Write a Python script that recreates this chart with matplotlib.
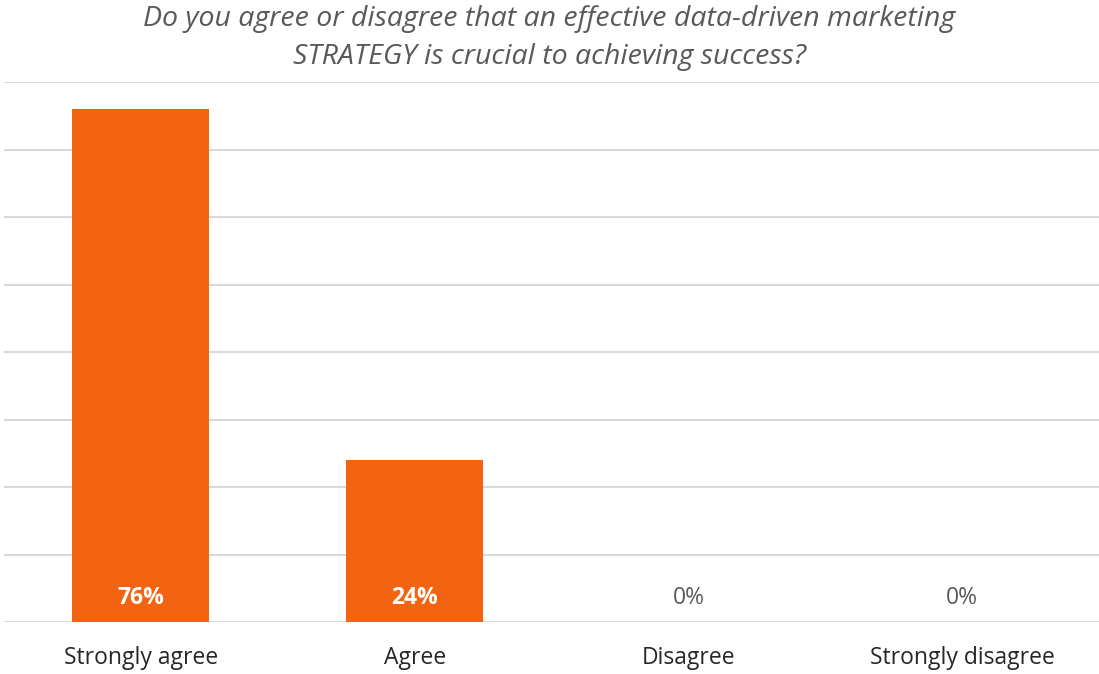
import matplotlib
matplotlib.use("Agg")
import matplotlib.pyplot as plt

categories = ["Strongly agree", "Agree", "Disagree", "Strongly disagree"]
values = [76, 24, 0, 0]
labels = ["76%", "24%", "0%", "0%"]
title = ("Do you agree or disagree that an effective data-driven marketing\n"
         "STRATEGY is crucial to achieving success?")

orange = "#F26411"

fig = plt.figure(figsize=(10.99, 6.74), dpi=100)
ax = fig.add_axes([4 / 1099, 52 / 674, 1 - 4 / 1099, 540 / 674])

x = range(len(categories))
ax.bar(x, values, width=0.5, color=orange, zorder=3)

ax.set_xlim(-0.5, 3.5)
ax.set_ylim(0, 80)
ax.set_yticks(range(0, 81, 10))
ax.yaxis.grid(True, color="#D9D9D9", linewidth=1.5, zorder=0)
ax.tick_params(axis="y", left=False, labelleft=False)
ax.tick_params(axis="x", bottom=False, pad=14)
ax.set_xticks(list(x))
ax.set_xticklabels(categories, fontsize=16.5, color="#262626", family="Open Sans")
for s in ax.spines.values():
    s.set_visible(False)

for i, (v, lab) in enumerate(zip(values, labels)):
    if v > 0:
        ax.text(i, 3.6, lab, ha="center", va="center", color="white",
                fontsize=16.5, fontweight="bold", family="Open Sans", zorder=4)
    else:
        ax.text(i, 3.6, lab, ha="center", va="center", color="#595959",
                fontsize=16.5, family="Open Sans", zorder=4)

fig.text(0.5, 1 - 38 / 674, title, ha="center", va="center", fontsize=20.5,
         style="italic", color="#595959", family="Open Sans", linespacing=1.5)

fig.savefig("out.png", dpi=100)
